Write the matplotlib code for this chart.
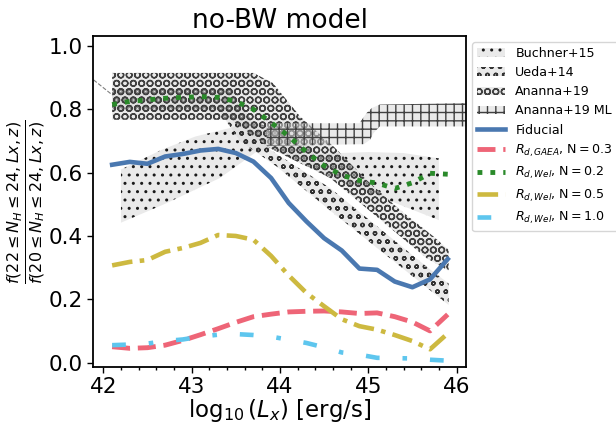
import matplotlib
matplotlib.use('Agg')
import matplotlib.pyplot as plt

# ---------------- data ----------------
lx = [42.1, 42.3, 42.5, 42.7, 42.9, 43.1, 43.3, 43.5, 43.7, 43.9,
      44.1, 44.3, 44.5, 44.7, 44.9, 45.1, 45.3, 45.5, 45.7, 45.9]
fiducial = [0.625, 0.634, 0.628, 0.651, 0.659, 0.670, 0.675, 0.662, 0.635, 0.583,
            0.504, 0.446, 0.393, 0.354, 0.297, 0.293, 0.256, 0.238, 0.263, 0.327]
gaea_03 = [0.050, 0.045, 0.047, 0.055, 0.070, 0.088, 0.107, 0.127, 0.145, 0.153,
           0.160, 0.162, 0.163, 0.160, 0.155, 0.157, 0.145, 0.128, 0.100, 0.152]
wel_02 = [0.815, 0.825, 0.830, 0.835, 0.838, 0.840, 0.838, 0.825, 0.800, 0.758,
          0.715, 0.665, 0.622, 0.592, 0.575, 0.567, 0.550, 0.568, 0.598, 0.595]
wel_05 = [0.307, 0.318, 0.324, 0.350, 0.362, 0.378, 0.403, 0.400, 0.388, 0.337,
          0.275, 0.220, 0.178, 0.137, 0.115, 0.104, 0.087, 0.068, 0.042, 0.092]
wel_10 = [0.055, 0.057, 0.060, 0.068, 0.073, 0.082, 0.088, 0.090, 0.087, 0.082,
          0.072, 0.062, 0.048, 0.032, 0.025, 0.015, 0.014, 0.013, 0.009, 0.006]

# observational bands: (x_upper, y_upper, x_lower, y_lower)
buch_xu = [42.2, 42.66, 43.04, 43.42, 43.7, 44.1, 44.45, 45.0, 45.4, 45.8]
buch_yu = [0.61, 0.672, 0.714, 0.74, 0.762, 0.72, 0.66, 0.665, 0.662, 0.645]
buch_xl = [42.2, 42.72, 43.32, 43.74, 43.89, 44.57, 45.8]
buch_yl = [0.442, 0.504, 0.583, 0.667, 0.677, 0.585, 0.45]

ueda_xu = [42.1, 43.45, 43.89, 44.57, 45.66, 45.91]
ueda_yu = [0.865, 0.865, 0.672, 0.551, 0.303, 0.25]
ueda_xl = [42.1, 43.3, 43.55, 43.96, 44.57, 45.91]
ueda_yl = [0.80, 0.80, 0.70, 0.62, 0.48, 0.182]

anan_xu = [42.1, 43.7, 43.92, 44.23, 44.61, 44.98, 45.36, 45.74, 45.91]
anan_yu = [0.915, 0.915, 0.883, 0.777, 0.682, 0.577, 0.482, 0.398, 0.356]
anan_xl = [42.1, 43.45, 43.89, 44.57, 45.66, 45.91]
anan_yl = [0.767, 0.767, 0.677, 0.583, 0.33, 0.29]

ml_xu = [43.85, 44.9, 44.98, 45.04, 45.13, 46.2]
ml_yu = [0.756, 0.756, 0.788, 0.804, 0.815, 0.82]
ml_xl = [43.85, 44.95, 45.02, 45.06, 45.13, 46.2]
ml_yl = [0.685, 0.69, 0.704, 0.725, 0.746, 0.746]

ext_x = [41.89, 42.1]
ext_y = [0.893, 0.846]

xticks = [42, 43, 44, 45, 46]
yticks = [0.0, 0.2, 0.4, 0.6, 0.8, 1.0]
xminor = [42.2, 42.4, 42.6, 42.8, 43.2, 43.4, 43.6, 43.8, 44.2, 44.4, 44.6, 44.8,
          45.2, 45.4, 45.6, 45.8]

# ---------------- plot ----------------
plt.rcParams['hatch.linewidth'] = 1.0
fig = plt.figure(figsize=(6.16, 4.30), dpi=100)
ax = fig.add_axes([0.1515, 0.1465, 0.605, 0.770])

def band(xu, yu, xl, yl, hatch, label, ec):
    xs = list(xu) + list(xl)[::-1]
    ys = list(yu) + list(yl)[::-1]
    ax.fill(xs, ys, facecolor=(0.85, 0.85, 0.85, 0.55), edgecolor=ec,
            hatch=hatch, linewidth=0, label=label, zorder=1)

band(buch_xu, buch_yu, buch_xl, buch_yl, '..', 'Buchner+15', (0.1, 0.1, 0.1))
band(ueda_xu, ueda_yu, ueda_xl, ueda_yl, 'oo', 'Ueda+14', (0.2, 0.2, 0.2))
band(anan_xu, anan_yu, anan_xl, anan_yl, 'OO', 'Ananna+19', (0.25, 0.25, 0.25))
band(ml_xu, ml_yu, ml_xl, ml_yl, '++', 'Ananna+19 ML', (0.25, 0.25, 0.25))
ax.plot(ext_x, ext_y, color='grey', lw=0.8, ls='--', zorder=1)

ax.plot(lx, fiducial, color='#4a78b0', lw=3.3, ls='-', label='Fiducial', zorder=3)
ax.plot(lx, gaea_03, color='#ee6577', lw=3.5, ls='--',
        label=r'$R_{d,GAEA}$, N$=0.3$', zorder=3)
ax.plot(lx, wel_02, color='#2a8a2a', lw=3.5, ls=':',
        label=r'$R_{d,Wel}$, N$=0.2$', zorder=3)
ax.plot(lx, wel_05, color='#cdb940', lw=3.3, ls=(0, (4.5, 1.6, 1, 1.6)),
        label=r'$R_{d,Wel}$, N$=0.5$', zorder=3)
ax.plot(lx, wel_10, color='#5ec6ee', lw=3.3, ls=(0, (3, 5, 1, 5)),
        label=r'$R_{d,Wel}$, N$=1.0$', zorder=3)

ax.set_xlim(41.887, 46.107)
ax.set_ylim(-0.014, 1.032)
ax.set_xticks(xticks)
ax.set_yticks(yticks)
ax.set_xticks(xminor, minor=True)
ax.tick_params(axis='both', which='major', labelsize=15.5, length=4, width=1)
ax.tick_params(axis='x', which='major', pad=3)
ax.tick_params(axis='x', which='minor', length=2.5, width=1)
for s in ax.spines.values():
    s.set_linewidth(1.3)

ax.set_title('no-BW model', fontsize=19)
ax.set_xlabel(r'$\log_{10}(L_x)$ [erg/s]', fontsize=16.5, va='center')
ax.xaxis.set_label_coords(0.5, -0.131)
ax.set_ylabel(r'$\frac{f(22\leq N_H\leq 24, Lx, z)}{f(20\leq N_H\leq 24, Lx, z)}$',
              fontsize=16.5)
ax.yaxis.set_label_coords(-0.124, 0.5)

ax.legend(loc='upper left', bbox_to_anchor=(1.0, 1.0), fontsize=9.1,
          labelspacing=0.48, handlelength=2.2, borderpad=0.4)

fig.savefig('out.png', dpi=100)
